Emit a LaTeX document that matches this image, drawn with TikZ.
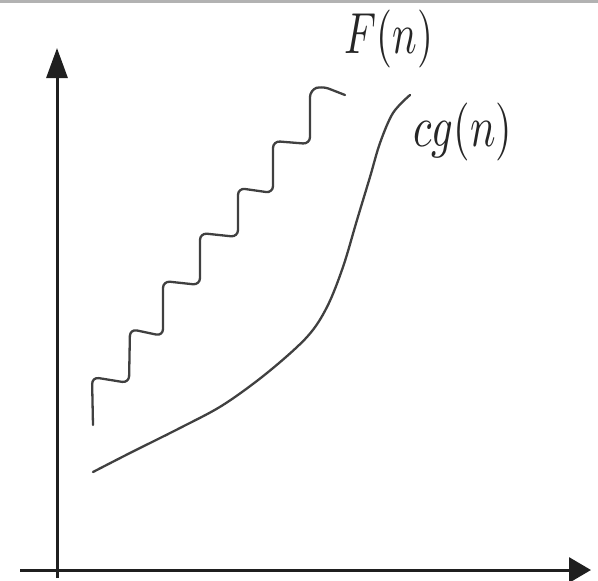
\documentclass[tikz,border=0pt]{standalone}
\usetikzlibrary{arrows.meta}
\begin{document}
\begin{tikzpicture}[x=1pt,y=-1pt,
  axis/.style={line width=3pt,draw=black!88},
  curve/.style={line width=2.3pt,draw=black!75,line cap=round,line join=round},
  lbl/.style={inner sep=0pt,text=black!85}]
\useasboundingbox (0,0) rectangle (598,581);
\fill[black!30] (0,0) rectangle (598,3);
% axes
\coordinate (ybot) at (57,578);
\coordinate (ytop) at (57,48);
\coordinate (xl) at (20,570);
\coordinate (xr) at (591,570);
\draw[axis,-{Triangle[length=30pt,width=21pt]}] (ybot) -- (ytop);
\draw[axis,-{Triangle[length=22pt,width=25pt]}] (xl) -- (xr);
% wavy F(n)
\draw[curve,rounded corners=7pt] (93,425) -- (92,377) -- (129,383) -- (130,329) -- (163,336) -- (163,281)
  -- (200,285) -- (200,233) -- (238,237) -- (238,188) -- (273,193) -- (273,141)
  -- (310,144) -- (310,90) -- (322,86) -- (345,95);
% smooth cg(n)
\draw[curve] plot[smooth,tension=0.55] coordinates {(93,472) (130,453) (180,428) (223,405) (267,373) (307,337)
  (327,307) (343,267) (357,220) (370,177) (380,143) (393,113) (410,95)};
% labels
\node[lbl] (F) at (389,39) {\scalebox{4.1}[5.8]{$F(n)$}};
\node[lbl] (G) at (463,132) {\scalebox{4.25}[5.8]{$cg(n)$}};
\end{tikzpicture}
\end{document}
